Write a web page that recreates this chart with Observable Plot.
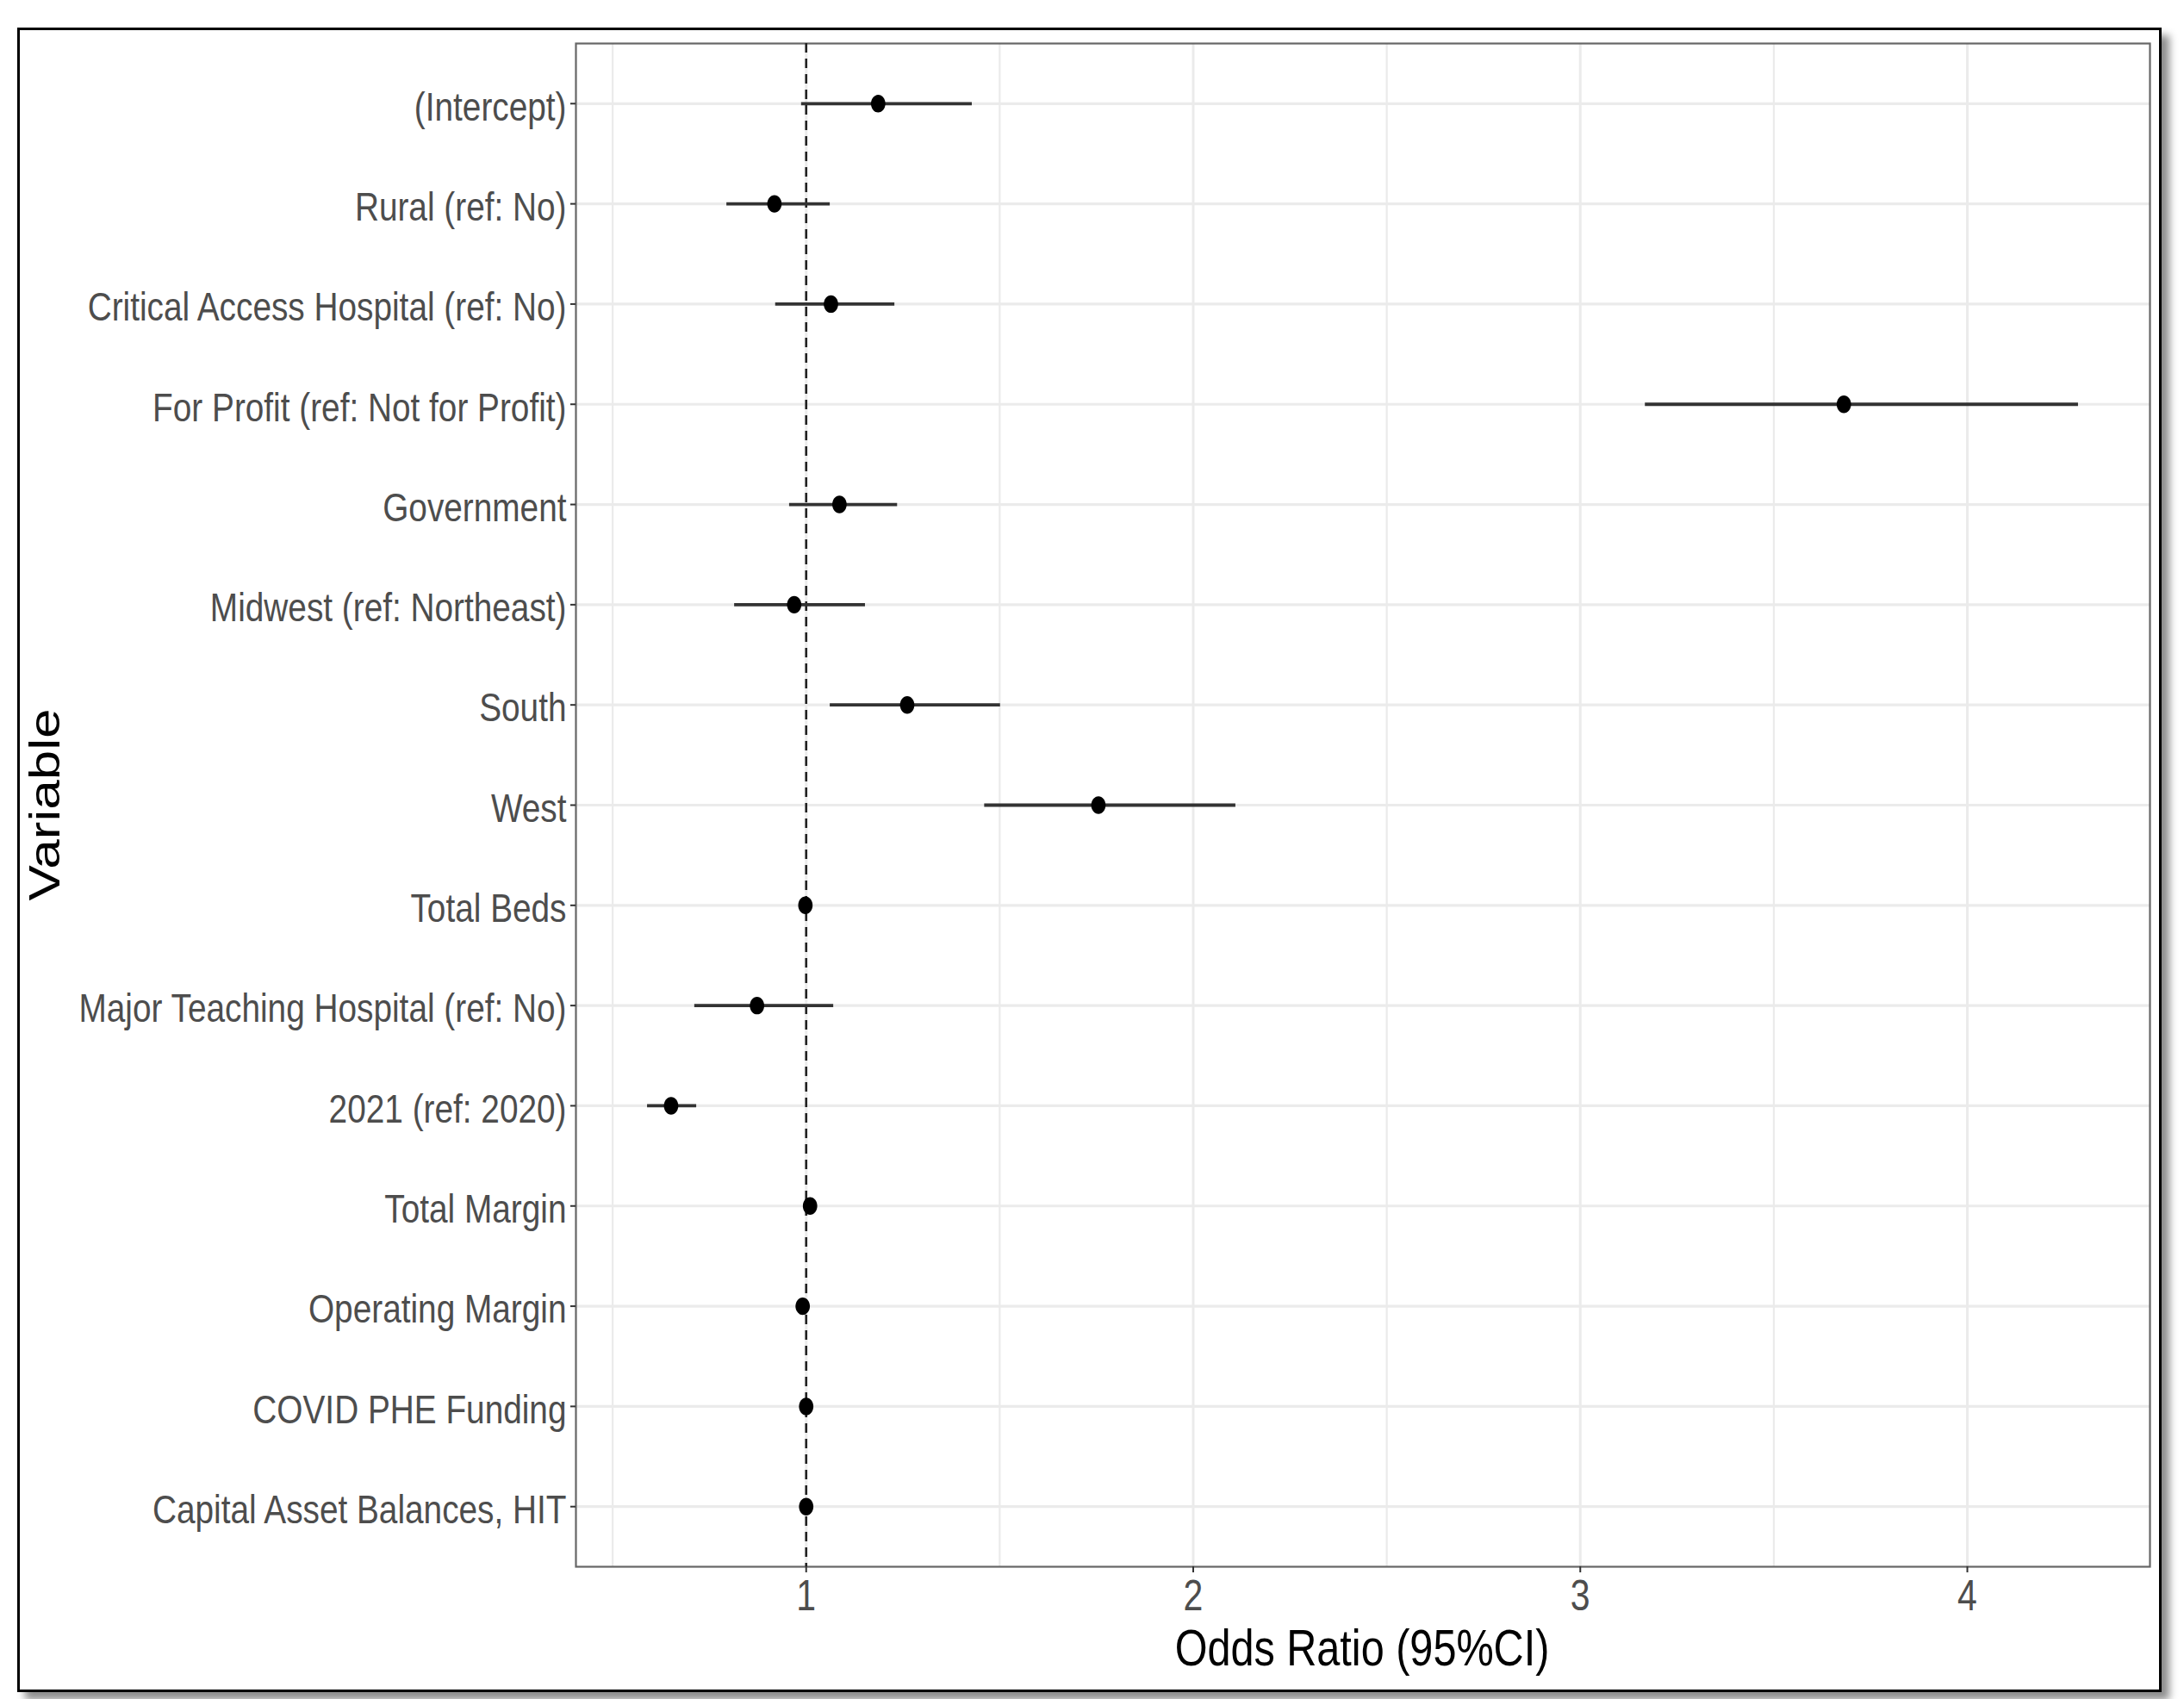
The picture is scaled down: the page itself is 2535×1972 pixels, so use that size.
<!DOCTYPE html>
<html>
<head>
<meta charset="utf-8">
<script src="https://cdn.jsdelivr.net/npm/d3@7"></script>
<script src="https://cdn.jsdelivr.net/npm/@observablehq/plot@0.6"></script>
<style>
  html, body { margin: 0; padding: 0; background: #fff; }
  #wrap { position: relative; width: 2535px; height: 1972px; overflow: hidden; background: #fff; }
  #frame { position: absolute; left: 20px; top: 32px; width: 2483px; height: 1926px;
           border: 3px solid #000; box-shadow: 9px 9px 9px rgba(0,0,0,0.45); background: #fff; }
  #chart { position: absolute; left: 0; top: 0; }
</style>
</head>
<body>
<div id="wrap"><div id="frame"></div><div id="chart"></div></div>
<script>
// ---- data ----
const variables = [
  "(Intercept)",
  "Rural (ref: No)",
  "Critical Access Hospital (ref: No)",
  "For Profit (ref: Not for Profit)",
  "Government",
  "Midwest (ref: Northeast)",
  "South",
  "West",
  "Total Beds",
  "Major Teaching Hospital (ref: No)",
  "2021 (ref: 2020)",
  "Total Margin",
  "Operating Margin",
  "COVID PHE Funding",
  "Capital Asset Balances, HIT"
];
const oddsRatio = [1.186, 0.918, 1.064, 3.681, 1.086, 0.969, 1.261, 1.755, 0.998, 0.873, 0.651, 1.010, 0.991, 1.000, 1.000];
const ciLower   = [0.988, 0.795, 0.921, 3.168, 0.957, 0.815, 1.062, 1.461, 0.996, 0.712, 0.590, 1.006, 0.987, 0.998, 0.998];
const ciUpper   = [1.429, 1.062, 1.229, 4.287, 1.236, 1.153, 1.502, 2.110, 1.000, 1.071, 0.717, 1.014, 0.995, 1.002, 1.002];
const majorTicks = [1, 2, 3, 4];
const minorTicks = [0.5, 1.5, 2.5, 3.5];
const referenceLine = [1];
const xTitle = "Odds Ratio (95%CI)";
const yTitle = "Variable";

const rows = variables.map((name, i) => ({name, or: oddsRatio[i], lo: ciLower[i], hi: ciUpper[i]}));

// ggplot-like 5% expansion of the continuous axis
const lo = d3.min(ciLower), hi = d3.max(ciUpper);
const pad = (hi - lo) * 0.05;

// slightly tall ellipse to mimic the reference's point shape
const ellipse = {
  draw(ctx, size) {
    const r = Math.sqrt(size / Math.PI), rx = r * 0.82, ry = r, k = 0.5523;
    ctx.moveTo(rx, 0);
    ctx.bezierCurveTo(rx, ry * k, rx * k, ry, 0, ry);
    ctx.bezierCurveTo(-rx * k, ry, -rx, ry * k, -rx, 0);
    ctx.bezierCurveTo(-rx, -ry * k, -rx * k, -ry, 0, -ry);
    ctx.bezierCurveTo(rx * k, -ry, rx, -ry * k, rx, 0);
    ctx.closePath();
  }
};

const grid = "#ebebeb";
const chart = Plot.plot({
  width: 2535,
  height: 1972,
  marginLeft: 668,
  marginRight: 40,
  marginTop: 50,
  marginBottom: 154,
  style: {fontFamily: "'Liberation Sans', Arial, sans-serif", background: "transparent", color: "#333", overflow: "visible"},
  x: {type: "linear", domain: [lo - pad, hi + pad], label: null},
  y: {type: "point", domain: variables, padding: 0.6, round: false, label: null},
  marks: [
    Plot.gridX(minorTicks, {stroke: grid, strokeOpacity: 1, strokeWidth: 2.2}),
    Plot.gridX(majorTicks, {stroke: grid, strokeOpacity: 1, strokeWidth: 3}),
    Plot.gridY(variables, {stroke: grid, strokeOpacity: 1, strokeWidth: 3.2}),
    Plot.frame({stroke: "#666", strokeWidth: 2.2}),
    Plot.ruleX(referenceLine, {stroke: "#222", strokeWidth: 2.6, strokeDasharray: "11,7"}),
    Plot.ruleY(rows, {y: "name", x1: "lo", x2: "hi", stroke: "#333", strokeWidth: 3.8}),
    Plot.dot(rows, {x: "or", y: "name", r: 10.2, fill: "#000", stroke: "none", symbol: ellipse}),
    Plot.axisY({ticks: variables, tickSize: 6, tickPadding: 5, fontSize: 47, label: null, stroke: "#333", strokeWidth: 2}),
    Plot.axisX({ticks: majorTicks, tickFormat: d => String(d), tickSize: 7, tickPadding: 8, fontSize: 50, label: null, stroke: "#333", strokeWidth: 2})
  ]
});

// condense tick labels horizontally like the reference
function squeeze(sel, sx, yAttr) {
  chart.querySelectorAll(sel).forEach(g => {
    g.setAttribute("fill", "#4d4d4d");
    g.querySelectorAll("text").forEach(t => {
      if (yAttr) t.setAttribute("y", yAttr);
      const tr = t.getAttribute("transform");
      if (tr) t.setAttribute("transform", tr + ` scale(${sx},1)`);
      else {
        const x = +(t.getAttribute("x") || 0);
        t.setAttribute("transform", `translate(${x},0) scale(${sx},1) translate(${-x},0)`);
      }
    });
  });
}
squeeze('g[aria-label="y-axis tick label"]', 0.825, "0.41em");
squeeze('g[aria-label="x-axis tick label"]', 0.82, null);

// axis titles
const svg = d3.select(chart.tagName.toLowerCase() === "svg" ? chart : chart.querySelector("svg"));
svg.append("text")
  .attr("transform", "translate(1581,1933) scale(0.81,1)")
  .attr("text-anchor", "middle")
  .attr("font-size", 60)
  .attr("fill", "#000")
  .text(xTitle);
svg.append("text")
  .attr("transform", "translate(69,934) rotate(-90) scale(1,0.82)")
  .attr("text-anchor", "middle")
  .attr("font-size", 62)
  .attr("fill", "#000")
  .text(yTitle);

document.getElementById("chart").appendChild(chart);
</script>
</body>
</html>
